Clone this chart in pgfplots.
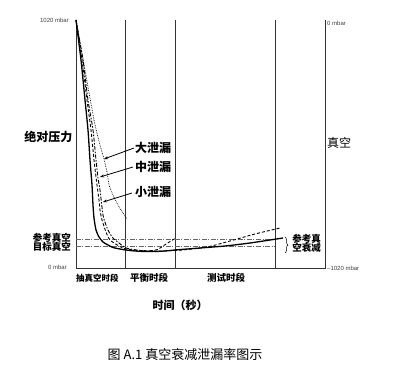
\documentclass[border=0pt]{standalone}
\usepackage{pgfplots}
\pgfplotsset{compat=1.18}
\usepackage{fontspec}
\setmainfont{Liberation Sans}
\newfontfamily\cjk{Noto Sans CJK SC}
\usetikzlibrary{decorations.pathreplacing,arrows.meta}
\begin{document}
\begin{tikzpicture}
\path[use as bounding box] (-76bp,-101bp) rectangle (321bp,268bp);
\begin{axis}[
  at={(0,0)}, anchor=south west,
  scale only axis, width=249bp, height=248bp,
  xmin=0, xmax=249, ymin=0, ymax=248,
  hide axis, clip=false,
]
% frame lines
\draw[black!80, line width=0.9bp] (axis cs:0,248) -- (axis cs:0,0) -- (axis cs:249,0) -- (axis cs:249,248);
\draw[black!80, line width=0.9bp] (axis cs:49,0) -- (axis cs:49,248);
\draw[black!80, line width=0.9bp] (axis cs:99,0) -- (axis cs:99,248);
\draw[black!80, line width=0.9bp] (axis cs:199,0) -- (axis cs:199,248);
% reference lines
\addplot[black!60, line width=0.6bp, dash pattern=on 5bp off 1.5bp on 1bp off 1.5bp] coordinates {(0,29) (199,29)};
\addplot[black!60, line width=0.6bp, dash pattern=on 5bp off 1.5bp on 1bp off 1.5bp] coordinates {(0,21.5) (199,21.5)};
% large leak (dotted)
\addplot[black, line width=0.7bp, densely dotted, smooth, tension=0.4] coordinates {
(0,248) (9,198) (18,148) (24,123) (28,109) (31,96) (33,83) (37,73) (42,63) (47,55) (51,49)};
% medium leak (dash dot)
\addplot[black, line width=0.9bp, dash pattern=on 4bp off 1.5bp on 1.5bp off 1.5bp, smooth, tension=0.4] coordinates {
(0,248) (7,208) (12,168) (17,138) (20,108) (22,90) (24,78) (27,53) (30,43) (33,36) (37,30) (43,25) (50,20) (64,17.5) (74,17)};
\addplot[black, line width=0.9bp, dash pattern=on 3bp off 2bp] coordinates {
(74,17) (82,18.5) (87,22) (94,26.5) (100,30)};
% small leak (dashed)
\addplot[black, line width=0.9bp, dash pattern=on 3bp off 2bp, smooth, tension=0.4] coordinates {
(0,248) (6,208) (11,168) (15,138) (18,108) (21,83) (23,68) (24,58) (26,48) (30,36) (34,28) (43,22) (50,19) (64,17.5) (84,17) (104,17.8) (131,21) (154,27) (179,34) (204,40)};
% solid
\addplot[black, line width=1.3bp, smooth, tension=0.4] coordinates {
(0,248) (5,208) (9,168) (12,138) (14,108) (16,83) (17,63) (18,50) (20,38) (23,31) (27,26) (32,23) (37,20.5) (44,19) (50,18) (59,17) (69,16.5) (79,16.5) (89,17) (99,18) (124,20) (149,22) (174,25) (207,30)};
% brace
\draw[black, line width=0.5bp, decorate, decoration={brace, amplitude=3bp}] (axis cs:209,31) -- (axis cs:209,15);
% arrows
\draw[black, line width=0.8bp, -{Stealth[length=4bp,width=3bp]}] (axis cs:58,120) -- (axis cs:28,109);
\draw[black, line width=0.8bp, -{Stealth[length=4bp,width=3bp]}] (axis cs:57,101) -- (axis cs:24,91);
\draw[black, line width=0.8bp, -{Stealth[length=4bp,width=3bp]}] (axis cs:56,75) -- (axis cs:27,66);
% texts
\node[anchor=west, inner sep=0pt] at (axis cs:59,120) {\cjk\bfseries\fontsize{12bp}{12bp}\selectfont 大泄漏};
\node[anchor=west, inner sep=0pt] at (axis cs:59,101) {\cjk\bfseries\fontsize{12bp}{12bp}\selectfont 中泄漏};
\node[anchor=west, inner sep=0pt] at (axis cs:59,76) {\cjk\bfseries\fontsize{12bp}{12bp}\selectfont 小泄漏};
\node[inner sep=0pt] at (axis cs:-27.5,131) {\cjk\bfseries\fontsize{12bp}{12bp}\selectfont 绝对压力};
\node[anchor=west, inner sep=0pt] at (axis cs:251,125) {\cjk\fontsize{12bp}{12bp}\selectfont 真空};
\node[anchor=east, inner sep=0pt] at (axis cs:-5,30) {\cjk\bfseries\fontsize{9.5bp}{9.5bp}\selectfont 参考真空};
\node[anchor=east, inner sep=0pt] at (axis cs:-5,21) {\cjk\bfseries\fontsize{9.5bp}{9.5bp}\selectfont 目标真空};
\node[inner sep=0pt] at (axis cs:230.5,29) {\cjk\bfseries\fontsize{9.5bp}{9.5bp}\selectfont 参考真};
\node[inner sep=0pt] at (axis cs:230.5,20) {\cjk\bfseries\fontsize{9.5bp}{9.5bp}\selectfont 空衰减};
\node[anchor=west, inner sep=0pt] at (axis cs:0,-10) {\cjk\bfseries\fontsize{8.5bp}{8.5bp}\selectfont 抽真空时段};
\node[anchor=west, inner sep=0pt] at (axis cs:54,-10) {\cjk\bfseries\fontsize{9.5bp}{9.5bp}\selectfont 平衡时段};
\node[anchor=west, inner sep=0pt] at (axis cs:131,-10) {\cjk\bfseries\fontsize{9.5bp}{9.5bp}\selectfont 测试时段};
\node[inner sep=0pt] at (axis cs:104,-37) {\cjk\bfseries\fontsize{11bp}{11bp}\selectfont 时间（秒）};
\node[inner sep=0pt] at (axis cs:109,-87) {\cjk\fontsize{13bp}{13bp}\selectfont 图 A.1 真空衰减泄漏率图示};
\node[anchor=east, inner sep=0pt, text=black!75] at (axis cs:-7,248) {\fontsize{6bp}{6bp}\selectfont 1020 mbar};
\node[anchor=east, inner sep=0pt, text=black!75] at (axis cs:-9,1) {\fontsize{6bp}{6bp}\selectfont 0 mbar};
\node[anchor=west, inner sep=0pt, text=black!75] at (axis cs:251,245) {\fontsize{6bp}{6bp}\selectfont 0 mbar};
\node[anchor=west, inner sep=0pt, text=black!75] at (axis cs:251,0) {\fontsize{6bp}{6bp}\selectfont –1020 mbar};
\end{axis}
\end{tikzpicture}
\end{document}
